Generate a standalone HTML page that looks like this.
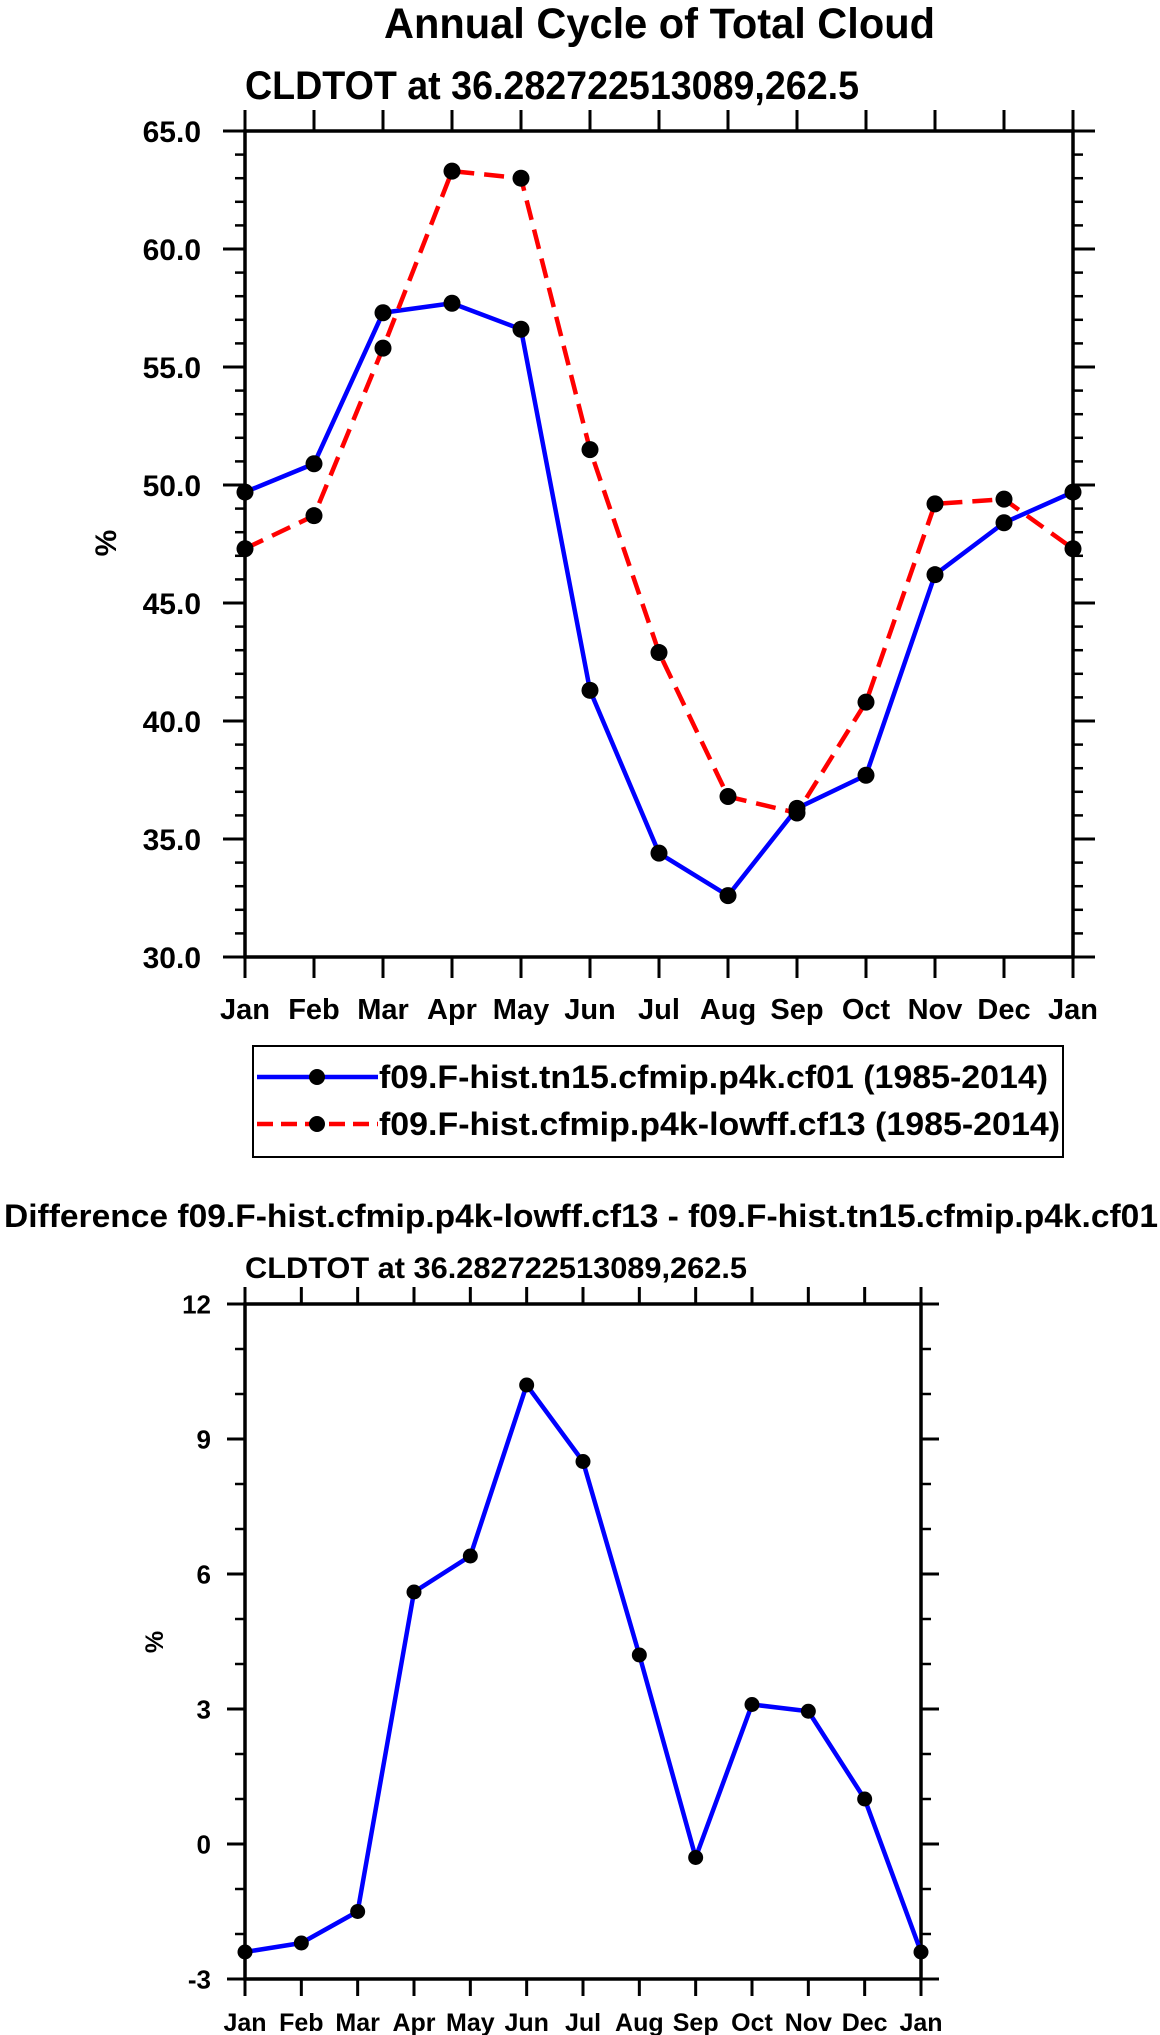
<!DOCTYPE html>
<html><head><meta charset="utf-8">
<style>
html,body{margin:0;padding:0;background:#fff;}
svg{display:block;font-family:"Liberation Sans",sans-serif;font-weight:bold;}
</style></head>
<body>
<svg id="chart" width="1160" height="2035" viewBox="0 0 1160 2035" xmlns="http://www.w3.org/2000/svg">
<text x="384" y="38" font-size="43" textLength="551" lengthAdjust="spacingAndGlyphs">Annual Cycle of Total Cloud</text>
<text x="245" y="99" font-size="40" textLength="614" lengthAdjust="spacingAndGlyphs">CLDTOT at 36.282722513089,262.5</text>
<text x="4" y="1227" font-size="32" textLength="1154" lengthAdjust="spacingAndGlyphs">Difference f09.F-hist.cfmip.p4k-lowff.cf13 - f09.F-hist.tn15.cfmip.p4k.cf01</text>
<text x="245" y="1278" font-size="30" textLength="502" lengthAdjust="spacingAndGlyphs">CLDTOT at 36.282722513089,262.5</text>
<g>
  <rect x="253" y="1046" width="810" height="111" fill="none" stroke="#000" stroke-width="2"/>
  <line x1="257" y1="1077" x2="378" y2="1077" stroke="#0000ff" stroke-width="4.5"/>
  <circle cx="317" cy="1077" r="8" fill="#000"/>
  <text x="379" y="1088" font-size="32" textLength="669" lengthAdjust="spacingAndGlyphs">f09.F-hist.tn15.cfmip.p4k.cf01 (1985-2014)</text>
  <line x1="257" y1="1124" x2="378" y2="1124" stroke="#ff0000" stroke-width="4.5" stroke-dasharray="16,8"/>
  <circle cx="317" cy="1124" r="8" fill="#000"/>
  <text x="379" y="1135" font-size="32" textLength="681" lengthAdjust="spacingAndGlyphs">f09.F-hist.cfmip.p4k-lowff.cf13 (1985-2014)</text>
</g>
</svg>
<script>
const months = ["Jan","Feb","Mar","Apr","May","Jun","Jul","Aug","Sep","Oct","Nov","Dec","Jan"];
const blueValues = [49.7,50.9,57.3,57.7,56.6,41.3,34.4,32.6,36.3,37.7,46.2,48.4,49.7];
const redValues = [47.3,48.7,55.8,63.3,63.0,51.5,42.9,36.8,36.1,40.8,49.2,49.4,47.3];
const diffValues = [-2.4,-2.2,-1.5,5.6,6.4,10.2,8.5,4.2,-0.3,3.1,2.95,1.0,-2.4];
const topYTicks = [30,35,40,45,50,55,60,65];
const topYTickLabels = ["30.0","35.0","40.0","45.0","50.0","55.0","60.0","65.0"];
const bottomYTicks = [-3,0,3,6,9,12];
const bottomYTickLabels = ["-3","0","3","6","9","12"];

const NS = "http://www.w3.org/2000/svg";
const svg = document.getElementById("chart");
function mk(tag, attrs, parent){
  const e = document.createElementNS(NS, tag);
  for (const k in attrs) e.setAttribute(k, attrs[k]);
  (parent||svg).appendChild(e);
  return e;
}

function drawPlot(cfg){
  const g = mk("g", {});
  
  
  const xs = i => cfg.left + (cfg.right - cfg.left) * i / (months.length - 1);
  const ys = v => cfg.bottom - (cfg.bottom - cfg.top) * (v - cfg.ymin) / (cfg.ymax - cfg.ymin);
  for (let v = cfg.ymin; v <= cfg.ymax + 1e-9; v += cfg.minor) {
    const y = ys(v);
    const a = mk("line", {x1: cfg.left - 10, x2: cfg.left, y1: y, y2: y, stroke: "#000", "stroke-width": 2.5}, g);
    
    
    const b = mk("line", {x1: cfg.right, x2: cfg.right + 10, y1: y, y2: y, stroke: "#000", "stroke-width": 2.5}, g);
    
    
  }
  cfg.yticks.forEach((v, i) => {
    const y = ys(v);
    const a = mk("line", {x1: cfg.left - cfg.tl, x2: cfg.left, y1: y, y2: y, stroke: "#000", "stroke-width": 3}, g);
    
    
    const b = mk("line", {x1: cfg.right, x2: cfg.right + cfg.tl, y1: y, y2: y, stroke: "#000", "stroke-width": 3}, g);
    
    
    const t = mk("text", {x: cfg.ylabX, y: y + cfg.yfs * 0.36, "text-anchor": "end", "font-size": cfg.yfs}, g);
    t.textContent = cfg.ylabels[i];
    
    
  });
  months.forEach((m, i) => {
    const x = xs(i);
    const a = mk("line", {x1: x, x2: x, y1: cfg.top - cfg.xtl, y2: cfg.top, stroke: "#000", "stroke-width": 3}, g);
    
    
    const b = mk("line", {x1: x, x2: x, y1: cfg.bottom, y2: cfg.bottom + cfg.xtl, stroke: "#000", "stroke-width": 3}, g);
    
    
    const t = mk("text", {x: x, y: cfg.xlabY, "text-anchor": "middle", "font-size": cfg.xfs}, g);
    t.textContent = m;
    
    
  });
  const fr = mk("rect", {x: cfg.left, y: cfg.top, width: cfg.right - cfg.left, height: cfg.bottom - cfg.top, fill: "none", stroke: "#000", "stroke-width": 3.5}, g);
  
  
  const yt = mk("text", {x: 0, y: 0, "text-anchor": "middle", "font-size": cfg.pfs, transform: `translate(${cfg.pctX},${cfg.pctY}) rotate(-90)`}, g);
  yt.textContent = "%";
  
  
  cfg.series.forEach(s => {
    const pts = s.values.map((v, i) => xs(i) + "," + ys(v)).join(" ");
    const pl = mk("polyline", {points: pts, fill: "none", stroke: s.color, "stroke-width": 4.5, "stroke-dasharray": s.dash || "none", "stroke-linejoin": "round"}, g);
    
    
  });
  cfg.series.forEach(s => {
    s.values.forEach((v, i) => {
      const c = mk("circle", {cx: xs(i), cy: ys(v), r: cfg.r, fill: "#000"}, g);
      
      
    });
  });
}

drawPlot({name: "top-plot", left: 245, right: 1073, top: 131, bottom: 957, ymin: 30, ymax: 65, minor: 1,
  yticks: topYTicks, ylabels: topYTickLabels, tl: 22, xtl: 21, ylabX: 201, yfs: 30, xlabY: 1019, xfs: 29,
  pctX: 116, pctY: 543, pfs: 30, r: 8.5,
  series: [{name: "blue-series", values: blueValues, color: "#0000ff"},
           {name: "red-series", values: redValues, color: "#ff0000", dash: "20,10"}]});

drawPlot({name: "difference-plot", left: 245, right: 921, top: 1304, bottom: 1979, ymin: -3, ymax: 12, minor: 1,
  yticks: bottomYTicks, ylabels: bottomYTickLabels, tl: 18, xtl: 17, ylabX: 211, yfs: 26, xlabY: 2031, xfs: 25,
  pctX: 163, pctY: 1642, pfs: 25, r: 7.5,
  series: [{name: "difference-series", values: diffValues, color: "#0000ff"}]});
</script>
</body></html>
